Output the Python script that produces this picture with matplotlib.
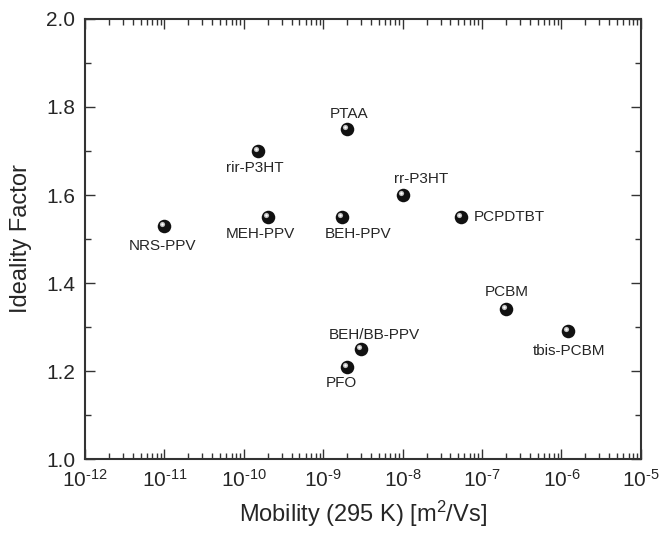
import numpy as np
import matplotlib
matplotlib.use('Agg')
import matplotlib.pyplot as plt
import matplotlib.ticker as ticker
from matplotlib.transforms import offset_copy

plt.rcParams['font.family'] = ['Liberation Sans', 'DejaVu Sans']
plt.rcParams['mathtext.fontset'] = 'custom'
plt.rcParams['mathtext.rm'] = 'Liberation Sans'
plt.rcParams['mathtext.it'] = 'Liberation Sans'
plt.rcParams['mathtext.default'] = 'regular'

# materials, mobility (m^2/Vs) and ideality factor
materials = ['PTAA', 'rir-P3HT', 'rr-P3HT', 'PCPDTBT', 'NRS-PPV', 'MEH-PPV',
             'BEH-PPV', 'PCBM', 'tbis-PCBM', 'BEH/BB-PPV', 'PFO']
mobility = [2.0e-9, 1.5e-10, 1.0e-8, 5.5e-8, 1.0e-11, 2.0e-10,
            1.7e-9, 2.0e-7, 1.2e-6, 3.0e-9, 2.0e-9]
ideality = [1.75, 1.70, 1.60, 1.55, 1.53, 1.55,
            1.55, 1.34, 1.29, 1.25, 1.21]

# label offsets in pixels (dx, dy) and horizontal alignment
label_pos = [(2, 15, 'center'), (-3, -17, 'center'), (18, 16, 'center'),
             (12, 0, 'left'), (-2, -20, 'center'), (-7, -17, 'center'),
             (17, -17, 'center'), (1, 17, 'center'), (1, -20, 'center'),
             (13, 14, 'center'), (-6, -16, 'center')]

fig = plt.figure(figsize=(6.6, 5.35), dpi=100)
ax = fig.add_axes([0.1288, 0.142, 0.8422, 0.8225])
dark = '#262626'

# shaded sphere markers: black ball plus a small highlight up-left
ax.scatter(mobility, ideality, s=95, c='#111111', zorder=3, linewidths=0)
hl = offset_copy(ax.transData, fig=fig, x=-1.4, y=1.4, units='points')
ax.scatter(mobility, ideality, s=14, c='#bdbdbd', zorder=4, linewidths=0,
           transform=hl)
ax.scatter(mobility, ideality, s=3, c='white', zorder=5, linewidths=0,
           transform=hl)

for name, x, y, (dx, dy, ha) in zip(materials, mobility, ideality, label_pos):
    ax.annotate(name, (x, y), xytext=(dx, dy), textcoords='offset pixels',
                ha=ha, va='center', fontsize=11, color=dark)

ax.set_xscale('log')
ax.set_xlim(1e-12, 1e-5)
ax.set_ylim(1.0, 2.0)


def decade_label(v, pos):
    # hyphen instead of the wide minus sign, as in the original figure
    e = int(round(np.log10(v)))
    return '10$^{%s}$' % str(e).replace('-', '\u2010')


ax.xaxis.set_major_locator(ticker.LogLocator(base=10, numticks=20))
ax.xaxis.set_minor_locator(ticker.LogLocator(base=10, subs=np.arange(2, 10), numticks=20))
ax.xaxis.set_minor_formatter(ticker.NullFormatter())
ax.xaxis.set_major_formatter(ticker.FuncFormatter(decade_label))
ax.yaxis.set_major_locator(ticker.MultipleLocator(0.2))
ax.yaxis.set_minor_locator(ticker.MultipleLocator(0.1))
ax.yaxis.set_major_formatter(ticker.FormatStrFormatter('%.1f'))

ax.tick_params(which='both', direction='in', top=True, right=True,
               colors='#333333', labelcolor=dark, width=1.0, labelsize=15)
ax.tick_params(which='major', length=7, pad=7)
ax.tick_params(which='minor', length=4)
for sp in ax.spines.values():
    sp.set_linewidth(1.5)
    sp.set_color('#333333')

ax.set_xlabel('Mobility (295 K) [m$^2$/Vs]', fontsize=17, color=dark, labelpad=6)
ax.set_ylabel('Ideality Factor', fontsize=17, color=dark, labelpad=10)

fig.savefig('out.png', dpi=100)
